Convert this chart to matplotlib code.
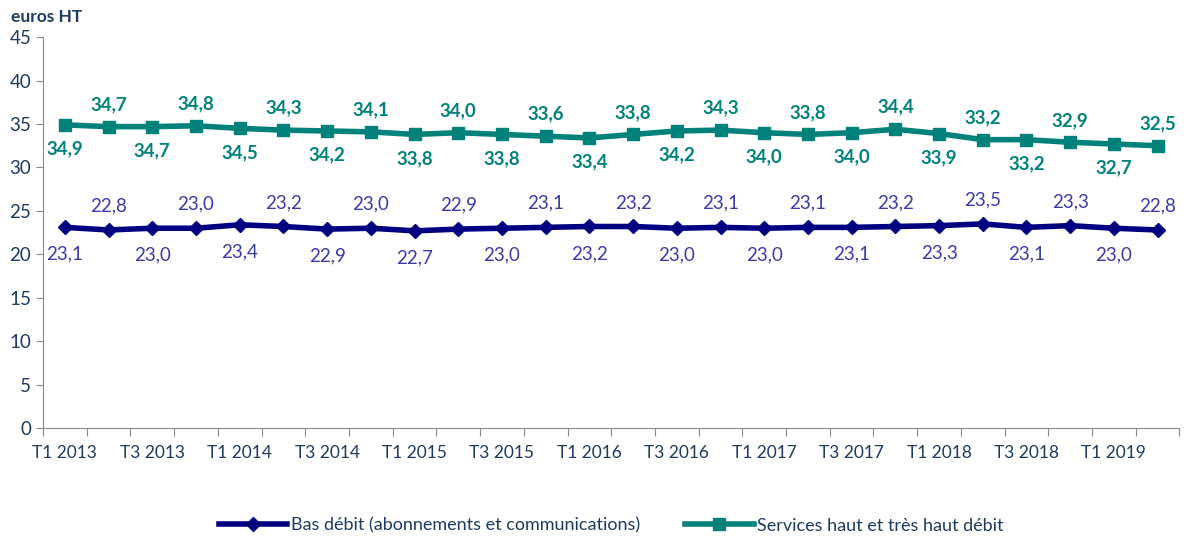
import matplotlib.pyplot as plt
import numpy as np

# Revenu moyen par abonnement (euros HT), trimestriel
trimestres = ["T1 2013", "T2 2013", "T3 2013", "T4 2013", "T1 2014", "T2 2014", "T3 2014", "T4 2014",
              "T1 2015", "T2 2015", "T3 2015", "T4 2015", "T1 2016", "T2 2016", "T3 2016", "T4 2016",
              "T1 2017", "T2 2017", "T3 2017", "T4 2017", "T1 2018", "T2 2018", "T3 2018", "T4 2018",
              "T1 2019", "T2 2019"]
bas_debit = [23.1, 22.8, 23.0, 23.0, 23.4, 23.2, 22.9, 23.0, 22.7, 22.9, 23.0, 23.1, 23.2,
             23.2, 23.0, 23.1, 23.0, 23.1, 23.1, 23.2, 23.3, 23.5, 23.1, 23.3, 23.0, 22.8]
haut_debit = [34.9, 34.7, 34.7, 34.8, 34.5, 34.3, 34.2, 34.1, 33.8, 34.0, 33.8, 33.6, 33.4,
              33.8, 34.2, 34.3, 34.0, 33.8, 34.0, 34.4, 33.9, 33.2, 33.2, 32.9, 32.7, 32.5]

plt.rcParams['font.family'] = ['Lato', 'DejaVu Sans']

BLEU = "#000080"
BLEU_TXT = "#3a3aa8"
VERT = "#00827a"
AXE_TXT = "#1f3a60"

fig = plt.figure(figsize=(11.95, 5.39), dpi=100)
ax = fig.add_axes([0.036, 0.206, 0.951, 0.725])

x = np.arange(len(trimestres))
ax.plot(x, bas_debit, color=BLEU, lw=4, marker="D", ms=7, label="Bas débit (abonnements et communications)")
ax.plot(x, haut_debit, color=VERT, lw=4, marker="s", ms=9, label="Services haut et très haut débit")

def fmt(v):
    return f"{v:.1f}".replace(".", ",")

for i, v in enumerate(bas_debit):
    dy = -27 if i % 2 == 0 else 24
    ax.annotate(fmt(v), (i, v), xytext=(0, dy), textcoords="offset pixels",
                ha="center", va="center", fontsize=13.5, color=BLEU_TXT)
for i, v in enumerate(haut_debit):
    dy = -24 if i % 2 == 0 else 22
    ax.annotate(fmt(v), (i, v), xytext=(0, dy), textcoords="offset pixels",
                ha="center", va="center", fontsize=13.5, color=VERT, fontweight="bold")

ax.set_xlim(-0.5, len(trimestres) - 0.5)
ax.set_ylim(0, 45)
ax.set_yticks(np.arange(0, 46, 5))
ax.set_xticks(np.arange(-0.5, len(trimestres) + 0.5, 1))
ax.set_xticklabels([])
ax.set_xticks(x[::2], minor=True)
ax.set_xticklabels(trimestres[::2], minor=True)
ax.tick_params(axis="x", which="major", length=6, color="#888888")
ax.tick_params(axis="x", which="minor", length=0, pad=12, labelsize=12.5, labelcolor=AXE_TXT)
ax.tick_params(axis="y", length=5, color="#888888", labelsize=13.5, labelcolor=AXE_TXT)

for s in ["top", "right"]:
    ax.spines[s].set_visible(False)
for s in ["left", "bottom"]:
    ax.spines[s].set_color("#888888")

fig.text(0.009, 0.968, "euros HT", fontsize=12.5, fontweight="bold", color=AXE_TXT, va="center")

ax.legend(loc="center", bbox_to_anchor=(0.5, -0.25), ncol=2, frameon=False,
          fontsize=13, handlelength=3.8, handletextpad=0.2, columnspacing=2.5,
          labelcolor=AXE_TXT)

plt.savefig("out.png", dpi=100)
